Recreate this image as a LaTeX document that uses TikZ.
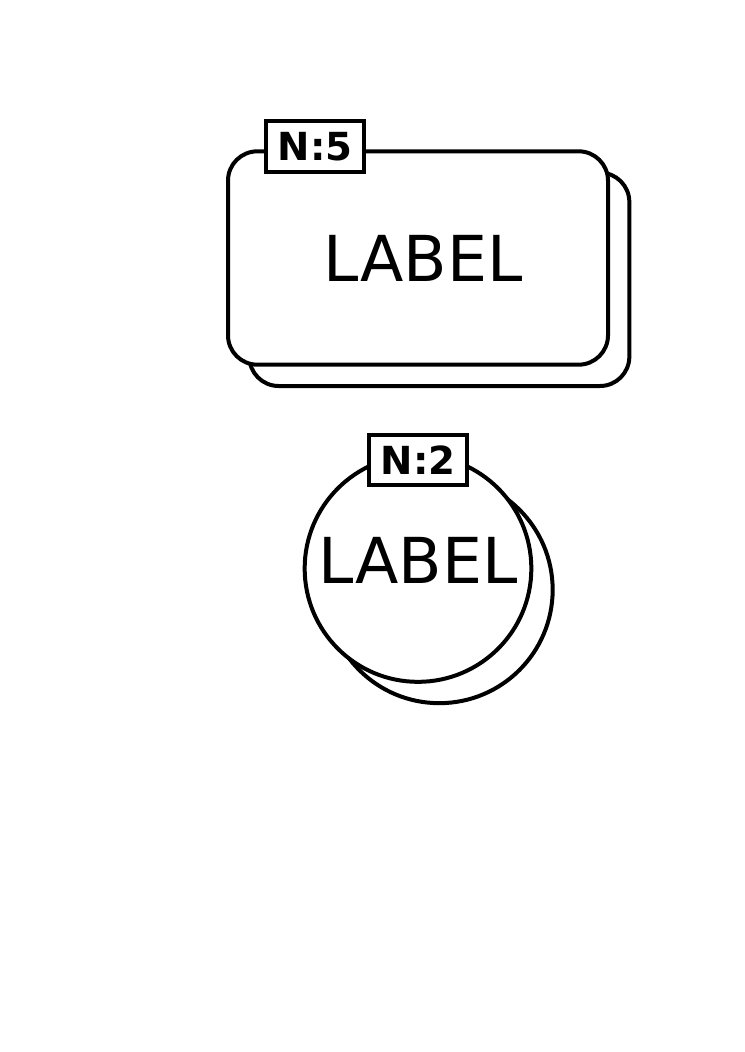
\documentclass[tikz,border=0pt]{standalone}
\usepackage{fontspec}
\setmainfont{DejaVu Sans}
\usetikzlibrary{positioning, shadows}
\tikzset{
  stack/.style={draw, fill=white, line width=3pt, align=center, inner sep=0pt,
                font=\fontsize{47.5}{57}\selectfont,
                copy shadow={shadow xshift=16pt, shadow yshift=-16pt,
                             draw=black, fill=white, line width=3pt}},
  stackbox/.style={stack, rectangle, rounded corners=22pt,
                   minimum width=285pt, minimum height=160pt},
  stackcirc/.style={stack, circle, minimum size=170pt},
  tag/.style={draw, fill=white, line width=3pt, inner sep=0pt,
              minimum width=73.5pt, minimum height=38pt,
              font=\bfseries\fontsize{29}{35}\selectfont},
}

\begin{document}
\begin{tikzpicture}[x=0.75pt, y=-0.75pt]
\useasboundingbox (0,0) rectangle (744,1052);

%% rectangle stack
\node[stackbox] (box) at (418,258) {\hspace*{8pt}LABEL};
\node[tag] (box_tag) at ([xshift=67pt, yshift=2pt]box.north west) {N:5};

%% circle stack
\node[stackcirc] (circ) at (418,568.5) {\raisebox{12pt}{LABEL}};
\node[tag] (circ_tag) at ([yshift=-5pt]circ.north) {N:2};

\end{tikzpicture}
\end{document}
